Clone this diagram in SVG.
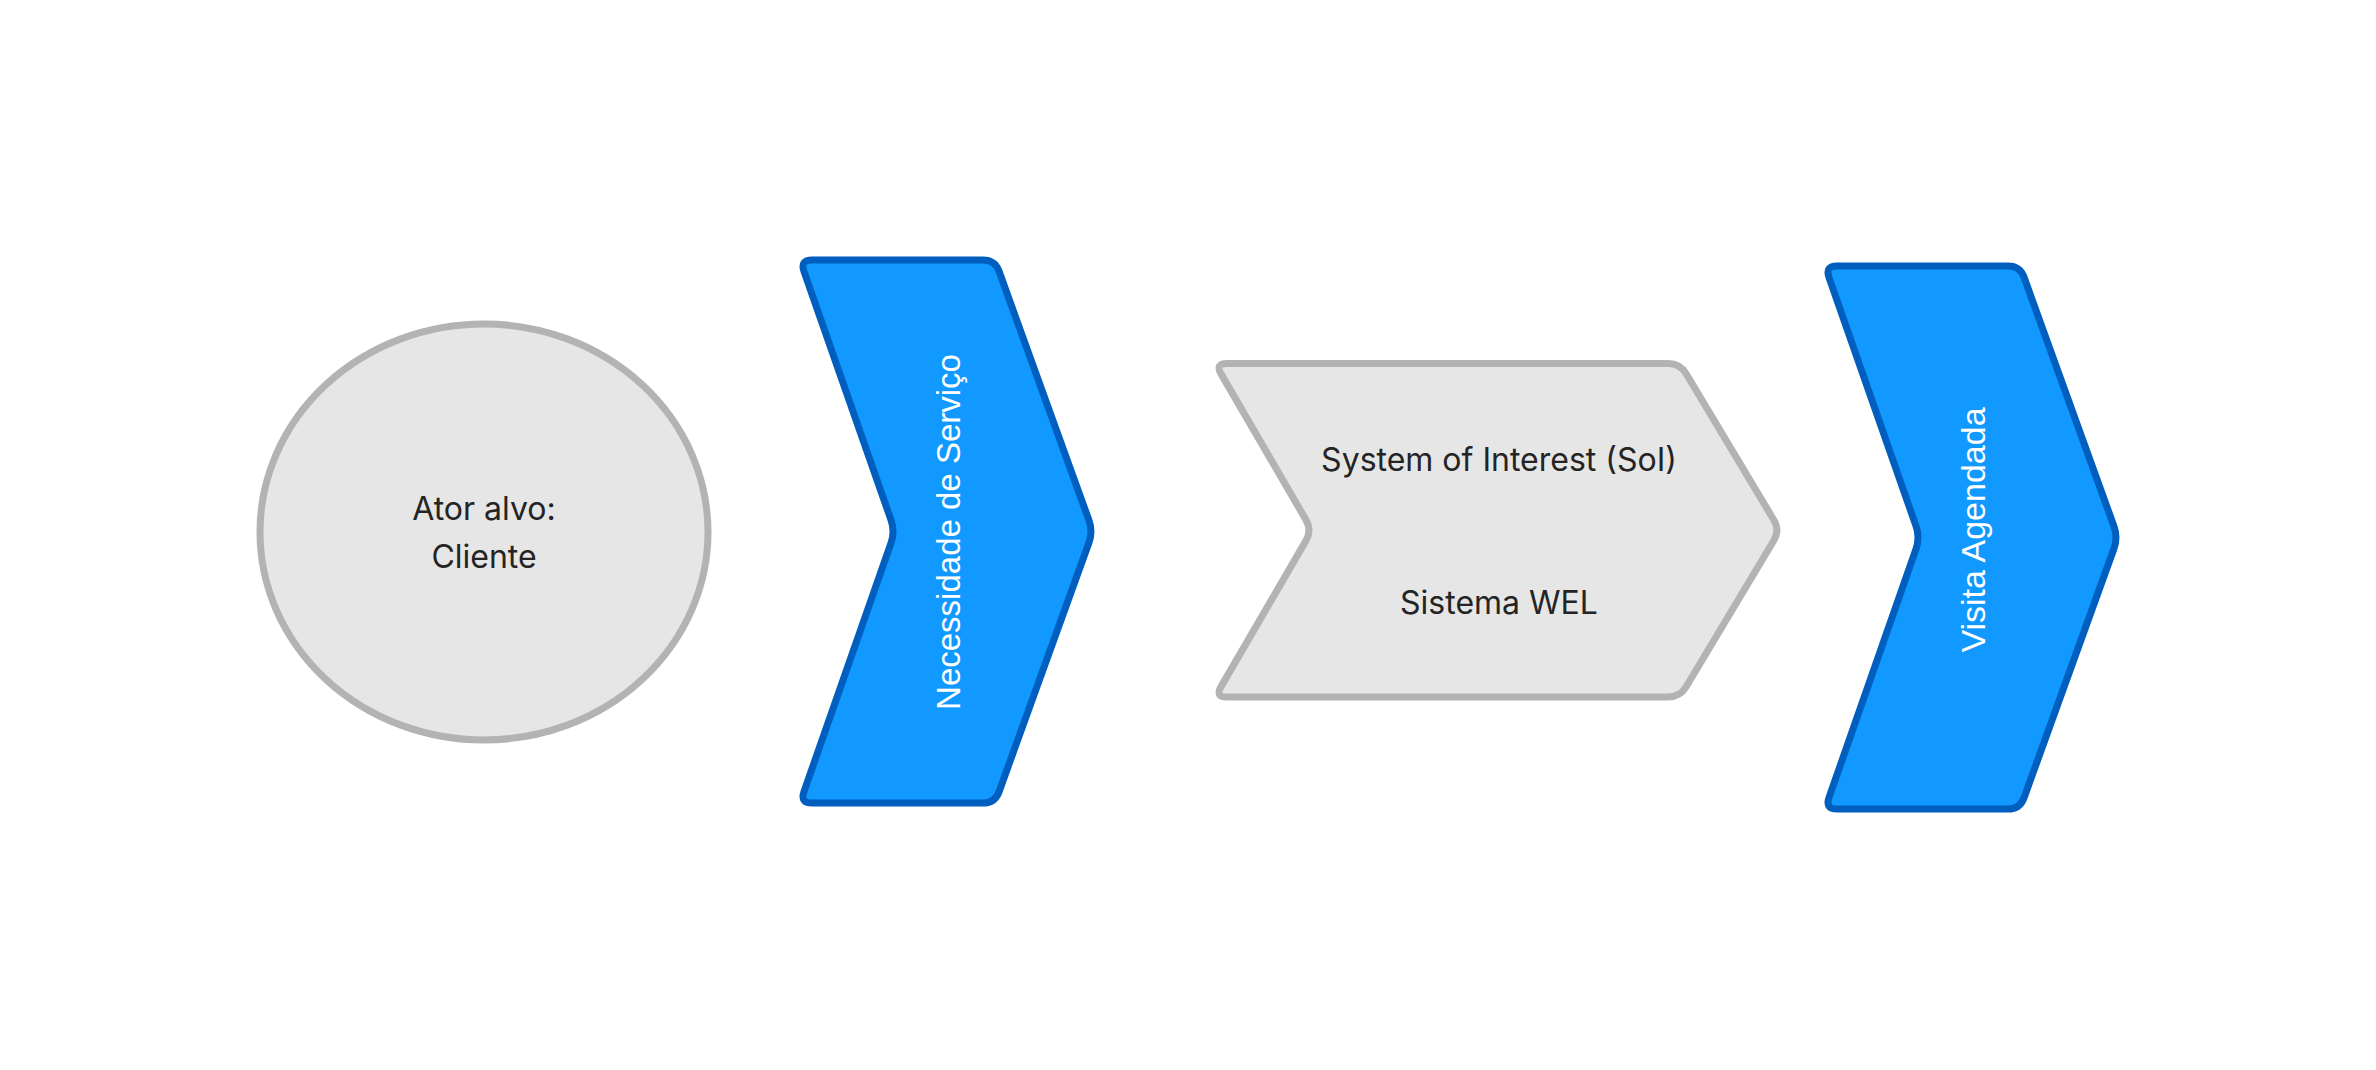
<svg xmlns="http://www.w3.org/2000/svg" width="2376" height="1070" viewBox="0 0 2376 1070">
  <style>
    .gray { fill: #e6e6e6; stroke: #b3b3b3; stroke-width: 7; }
    .blue { fill: #1199ff; stroke: #005ebf; stroke-width: 7; stroke-linejoin: round; }
    .dark { font-family: Inter, "Liberation Sans", sans-serif; font-size: 32px; fill: #242424; text-anchor: middle; }
    .light { font-family: "Liberation Sans", Arial, sans-serif; font-size: 33px; fill: #ffffff; text-anchor: middle; dominant-baseline: central; }
  </style>
  <defs>
    <path id="chev" d="M803.96,271.33 Q800,260 812,260 L983,260 Q995,260 999.07,271.29 L1088.93,520.21 Q1093,531.5 1088.93,542.79 L999.07,791.71 Q995,803 983,803 L812,803 Q800,803 803.96,791.67 L891.04,542.83 Q895,531.5 891.04,520.17 Z"/>
  </defs>
  <rect width="2376" height="1070" fill="#ffffff"/>
  <g id="connectors"></g>
  <g id="ator-alvo">
    <ellipse class="gray" cx="484" cy="532" rx="224" ry="208"/>
    <text class="dark" x="484" y="520">Ator alvo:</text>
    <text class="dark" x="484" y="568">Cliente</text>
  </g>
  <g id="necessidade-servico">
    <use href="#chev" class="blue"/>
    <text class="light" transform="translate(948,532) rotate(-90)">Necessidade de Serviço</text>
  </g>
  <g id="sistema-wel">
    <path class="gray" stroke-linejoin="round" d="M1221.03,373.87 Q1215,363.5 1227,363.5 L1668,363.5 Q1680,363.5 1686.17,373.79 L1773.83,519.96 Q1780,530.25 1773.83,540.54 L1686.17,686.71 Q1680,697 1668,697 L1227,697 Q1215,697 1221.03,686.63 L1305.97,540.62 Q1312,530.25 1305.97,519.88 Z"/>
    <text class="dark" x="1499" y="471">System of Interest (SoI)</text>
    <text class="dark" x="1499" y="614">Sistema WEL</text>
  </g>
  <g id="visita-agendada">
    <use href="#chev" class="blue" transform="translate(1025,6)"/>
    <text class="light" style="font-size:34px" transform="translate(1973,530) rotate(-90)">Visita Agendada</text>
  </g>
</svg>
